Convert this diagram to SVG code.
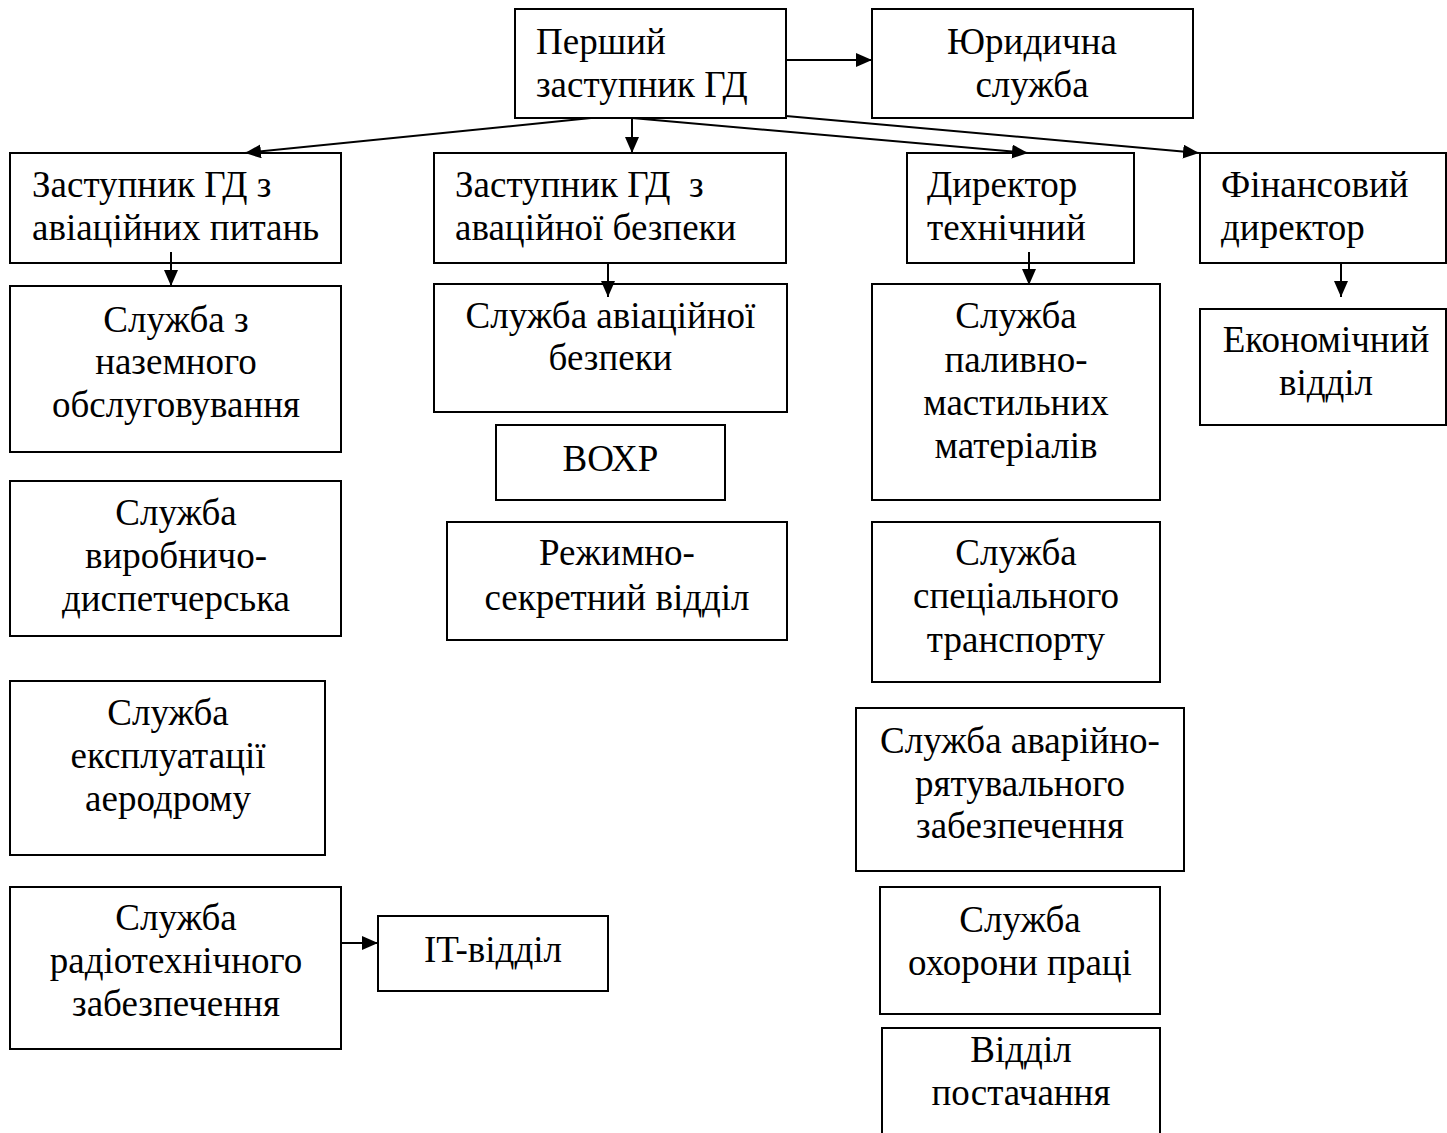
<svg xmlns="http://www.w3.org/2000/svg" width="1447" height="1133" viewBox="0 0 1447 1133">
<style>
.box{fill:#fff;stroke:#000;stroke-width:2}
.t{font-family:"Liberation Serif","Times New Roman",serif;font-size:37px;fill:#000;white-space:pre}
.c{text-anchor:middle}
.con{fill:none;stroke:#000;stroke-width:2;marker-end:url(#ah)}
</style>
<defs>
<marker id="ah" markerUnits="userSpaceOnUse" markerWidth="17" markerHeight="14" refX="16" refY="7" orient="auto">
<path d="M0,0 L16,7 L0,14 z" fill="#000"/>
</marker>
</defs>
<rect width="1447" height="1133" fill="#fff"/>
<g id="n-first">
<rect class="box" x="515" y="9" width="271" height="109"/>
<text class="t" x="536" y="54">Перший</text>
<text class="t" x="536" y="97">заступник ГД</text>
</g>
<g id="n-legal">
<rect class="box" x="872" y="9" width="321" height="109"/>
<text class="t c" x="1032" y="54">Юридична</text>
<text class="t c" x="1032" y="97">служба</text>
</g>
<g id="n-dep-aviation">
<rect class="box" x="10" y="153" width="331" height="110"/>
<text class="t" x="32" y="197">Заступник ГД з</text>
<text class="t" x="32" y="240">авіаційних питань</text>
</g>
<g id="n-dep-security">
<rect class="box" x="434" y="153" width="352" height="110"/>
<text class="t" x="455" y="197">Заступник ГД  з</text>
<text class="t" x="455" y="240">аваційної безпеки</text>
</g>
<g id="n-tech-director">
<rect class="box" x="907" y="153" width="227" height="110"/>
<text class="t" x="927" y="197">Директор</text>
<text class="t" x="927" y="240">технічний</text>
</g>
<g id="n-fin-director">
<rect class="box" x="1200" y="153" width="246" height="110"/>
<text class="t" x="1221" y="197">Фінансовий</text>
<text class="t" x="1221" y="240">директор</text>
</g>
<g id="n-ground">
<rect class="box" x="10" y="286" width="331" height="166"/>
<text class="t c" x="176" y="332">Служба з</text>
<text class="t c" x="176" y="374">наземного</text>
<text class="t c" x="176" y="417">обслуговування</text>
</g>
<g id="n-dispatch">
<rect class="box" x="10" y="481" width="331" height="155"/>
<text class="t c" x="176" y="525">Служба</text>
<text class="t c" x="176" y="568">виробничо-</text>
<text class="t c" x="176" y="611">диспетчерська</text>
</g>
<g id="n-aerodrome">
<rect class="box" x="10" y="681" width="315" height="174"/>
<text class="t c" x="168" y="725">Служба</text>
<text class="t c" x="168" y="768">експлуатації</text>
<text class="t c" x="168" y="811">аеродрому</text>
</g>
<g id="n-radio">
<rect class="box" x="10" y="887" width="331" height="162"/>
<text class="t c" x="176" y="930">Служба</text>
<text class="t c" x="176" y="973">радіотехнічного</text>
<text class="t c" x="176" y="1016">забезпечення</text>
</g>
<g id="n-it">
<rect class="box" x="378" y="916" width="230" height="75"/>
<text class="t c" x="493" y="962">IT-відділ</text>
</g>
<g id="n-avsec">
<rect class="box" x="434" y="284" width="353" height="128"/>
<text class="t c" x="610.5" y="328">Служба авіаційної</text>
<text class="t c" x="610.5" y="370">безпеки</text>
</g>
<g id="n-vokhr">
<rect class="box" x="496" y="425" width="229" height="75"/>
<text class="t c" x="610.5" y="471">ВОХР</text>
</g>
<g id="n-secret">
<rect class="box" x="447" y="522" width="340" height="118"/>
<text class="t c" x="617" y="565">Режимно-</text>
<text class="t c" x="617" y="610">секретний відділ</text>
</g>
<g id="n-fuel">
<rect class="box" x="872" y="284" width="288" height="216"/>
<text class="t c" x="1016" y="328">Служба</text>
<text class="t c" x="1016" y="372">паливно-</text>
<text class="t c" x="1016" y="415">мастильних</text>
<text class="t c" x="1016" y="458">матеріалів</text>
</g>
<g id="n-transport">
<rect class="box" x="872" y="522" width="288" height="160"/>
<text class="t c" x="1016" y="565">Служба</text>
<text class="t c" x="1016" y="608">спеціального</text>
<text class="t c" x="1016" y="652">транспорту</text>
</g>
<g id="n-rescue">
<rect class="box" x="856" y="708" width="328" height="163"/>
<text class="t c" x="1020" y="753">Служба аварійно-</text>
<text class="t c" x="1020" y="796">рятувального</text>
<text class="t c" x="1020" y="838">забезпечення</text>
</g>
<g id="n-safety">
<rect class="box" x="880" y="887" width="280" height="127"/>
<text class="t c" x="1020" y="932">Служба</text>
<text class="t c" x="1020" y="975">охорони праці</text>
</g>
<g id="n-supply">
<rect class="box" x="882" y="1028" width="278" height="130"/>
<text class="t c" x="1021" y="1062">Відділ</text>
<text class="t c" x="1021" y="1105">постачання</text>
</g>
<g id="n-economic">
<rect class="box" x="1200" y="309" width="246" height="116"/>
<text class="t c" x="1326" y="352">Економічний</text>
<text class="t c" x="1326" y="395">відділ</text>
</g>
<g id="connectors">
<path class="con" d="M786,60 H872"/>
<path class="con" d="M591,118 L245,153"/>
<path class="con" d="M632,118 V153"/>
<path class="con" d="M632,118 L1028,153"/>
<path class="con" d="M786,116 L1199,153"/>
<path class="con" d="M171,252 V286"/>
<path class="con" d="M608,263 V297"/>
<path class="con" d="M1029,252 V285"/>
<path class="con" d="M1341,263 V297"/>
<path class="con" d="M341,943 H378"/>
</g>
</svg>
